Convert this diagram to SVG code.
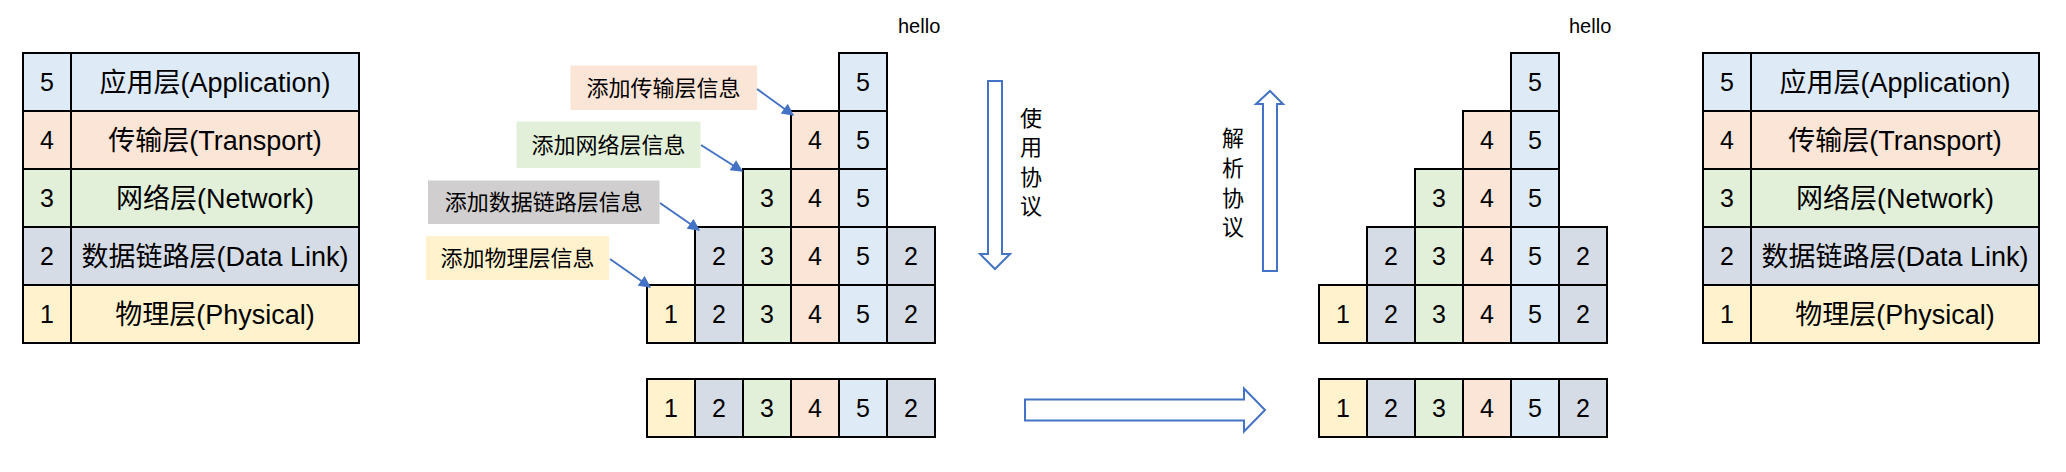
<svg xmlns="http://www.w3.org/2000/svg" width="2066" height="472" viewBox="0 0 2066 472">
<style>
text{font-family:"Liberation Sans","Noto Sans CJK SC",sans-serif;fill:#000}
.cell{stroke:#000;stroke-width:2}
.c1{fill:#FFF2CC}.c2{fill:#D6DCE5}.c3{fill:#E2F0D9}.c4{fill:#FBE5D6}.c5{fill:#DEEBF7}.cg{fill:#D0CECE}
.num{font-size:25px;text-anchor:middle}
.lbl{font-size:27px;text-anchor:middle}
.tag{font-size:22px;text-anchor:middle}
.vt{font-size:22px;text-anchor:middle}
.hello{font-size:20px}
.conn{stroke:#4472C4;stroke-width:2;fill:none}
.blk{stroke:#4472C4;stroke-width:2;fill:#fff}
</style>
<defs>
<marker id="ah" viewBox="0 0 10 10" refX="9" refY="5" markerWidth="14" markerHeight="12" markerUnits="userSpaceOnUse" orient="auto">
<path d="M0,0 L10,5 L0,10 z" fill="#4472C4"/>
</marker>
</defs>

<!-- Left table -->
<g id="left-table">
<g id="lt-5"><rect class="cell c5" x="23" y="53" width="48" height="58"/><rect class="cell c5" x="71" y="53" width="288" height="58"/><text class="num" x="47" y="91">5</text><text class="lbl" x="215" y="92">应用层(Application)</text></g>
<g id="lt-4"><rect class="cell c4" x="23" y="111" width="48" height="58"/><rect class="cell c4" x="71" y="111" width="288" height="58"/><text class="num" x="47" y="149">4</text><text class="lbl" x="215" y="150">传输层(Transport)</text></g>
<g id="lt-3"><rect class="cell c3" x="23" y="169" width="48" height="58"/><rect class="cell c3" x="71" y="169" width="288" height="58"/><text class="num" x="47" y="207">3</text><text class="lbl" x="215" y="208">网络层(Network)</text></g>
<g id="lt-2"><rect class="cell c2" x="23" y="227" width="48" height="58"/><rect class="cell c2" x="71" y="227" width="288" height="58"/><text class="num" x="47" y="265">2</text><text class="lbl" x="215" y="266">数据链路层(Data Link)</text></g>
<g id="lt-1"><rect class="cell c1" x="23" y="285" width="48" height="58"/><rect class="cell c1" x="71" y="285" width="288" height="58"/><text class="num" x="47" y="323">1</text><text class="lbl" x="215" y="324">物理层(Physical)</text></g>
</g>

<!-- Right table -->
<g id="right-table">
<g id="rt-5"><rect class="cell c5" x="1703" y="53" width="48" height="58"/><rect class="cell c5" x="1751" y="53" width="288" height="58"/><text class="num" x="1727" y="91">5</text><text class="lbl" x="1895" y="92">应用层(Application)</text></g>
<g id="rt-4"><rect class="cell c4" x="1703" y="111" width="48" height="58"/><rect class="cell c4" x="1751" y="111" width="288" height="58"/><text class="num" x="1727" y="149">4</text><text class="lbl" x="1895" y="150">传输层(Transport)</text></g>
<g id="rt-3"><rect class="cell c3" x="1703" y="169" width="48" height="58"/><rect class="cell c3" x="1751" y="169" width="288" height="58"/><text class="num" x="1727" y="207">3</text><text class="lbl" x="1895" y="208">网络层(Network)</text></g>
<g id="rt-2"><rect class="cell c2" x="1703" y="227" width="48" height="58"/><rect class="cell c2" x="1751" y="227" width="288" height="58"/><text class="num" x="1727" y="265">2</text><text class="lbl" x="1895" y="266">数据链路层(Data Link)</text></g>
<g id="rt-1"><rect class="cell c1" x="1703" y="285" width="48" height="58"/><rect class="cell c1" x="1751" y="285" width="288" height="58"/><text class="num" x="1727" y="323">1</text><text class="lbl" x="1895" y="324">物理层(Physical)</text></g>
</g>

<!-- Middle stack -->
<g id="mid-stack">
<g id="m-r0-5"><rect class="cell c5" x="839" y="53" width="48" height="58"/><text class="num" x="863" y="91">5</text></g>
<g id="m-r1-4"><rect class="cell c4" x="791" y="111" width="48" height="58"/><text class="num" x="815" y="149">4</text></g>
<g id="m-r1-5"><rect class="cell c5" x="839" y="111" width="48" height="58"/><text class="num" x="863" y="149">5</text></g>
<g id="m-r2-3"><rect class="cell c3" x="743" y="169" width="48" height="58"/><text class="num" x="767" y="207">3</text></g>
<g id="m-r2-4"><rect class="cell c4" x="791" y="169" width="48" height="58"/><text class="num" x="815" y="207">4</text></g>
<g id="m-r2-5"><rect class="cell c5" x="839" y="169" width="48" height="58"/><text class="num" x="863" y="207">5</text></g>
<g id="m-r3-2"><rect class="cell c2" x="695" y="227" width="48" height="58"/><text class="num" x="719" y="265">2</text></g>
<g id="m-r3-3"><rect class="cell c3" x="743" y="227" width="48" height="58"/><text class="num" x="767" y="265">3</text></g>
<g id="m-r3-4"><rect class="cell c4" x="791" y="227" width="48" height="58"/><text class="num" x="815" y="265">4</text></g>
<g id="m-r3-5"><rect class="cell c5" x="839" y="227" width="48" height="58"/><text class="num" x="863" y="265">5</text></g>
<g id="m-r3-2t"><rect class="cell c2" x="887" y="227" width="48" height="58"/><text class="num" x="911" y="265">2</text></g>
<g id="m-r4-1"><rect class="cell c1" x="647" y="285" width="48" height="58"/><text class="num" x="671" y="323">1</text></g>
<g id="m-r4-2"><rect class="cell c2" x="695" y="285" width="48" height="58"/><text class="num" x="719" y="323">2</text></g>
<g id="m-r4-3"><rect class="cell c3" x="743" y="285" width="48" height="58"/><text class="num" x="767" y="323">3</text></g>
<g id="m-r4-4"><rect class="cell c4" x="791" y="285" width="48" height="58"/><text class="num" x="815" y="323">4</text></g>
<g id="m-r4-5"><rect class="cell c5" x="839" y="285" width="48" height="58"/><text class="num" x="863" y="323">5</text></g>
<g id="m-r4-2t"><rect class="cell c2" x="887" y="285" width="48" height="58"/><text class="num" x="911" y="323">2</text></g>
</g>
<g id="mid-frame">
<g id="mf-1"><rect class="cell c1" x="647" y="379" width="48" height="58"/><text class="num" x="671" y="417">1</text></g>
<g id="mf-2"><rect class="cell c2" x="695" y="379" width="48" height="58"/><text class="num" x="719" y="417">2</text></g>
<g id="mf-3"><rect class="cell c3" x="743" y="379" width="48" height="58"/><text class="num" x="767" y="417">3</text></g>
<g id="mf-4"><rect class="cell c4" x="791" y="379" width="48" height="58"/><text class="num" x="815" y="417">4</text></g>
<g id="mf-5"><rect class="cell c5" x="839" y="379" width="48" height="58"/><text class="num" x="863" y="417">5</text></g>
<g id="mf-2t"><rect class="cell c2" x="887" y="379" width="48" height="58"/><text class="num" x="911" y="417">2</text></g>
</g>

<!-- Right stack -->
<g id="right-stack">
<g id="r-r0-5"><rect class="cell c5" x="1511" y="53" width="48" height="58"/><text class="num" x="1535" y="91">5</text></g>
<g id="r-r1-4"><rect class="cell c4" x="1463" y="111" width="48" height="58"/><text class="num" x="1487" y="149">4</text></g>
<g id="r-r1-5"><rect class="cell c5" x="1511" y="111" width="48" height="58"/><text class="num" x="1535" y="149">5</text></g>
<g id="r-r2-3"><rect class="cell c3" x="1415" y="169" width="48" height="58"/><text class="num" x="1439" y="207">3</text></g>
<g id="r-r2-4"><rect class="cell c4" x="1463" y="169" width="48" height="58"/><text class="num" x="1487" y="207">4</text></g>
<g id="r-r2-5"><rect class="cell c5" x="1511" y="169" width="48" height="58"/><text class="num" x="1535" y="207">5</text></g>
<g id="r-r3-2"><rect class="cell c2" x="1367" y="227" width="48" height="58"/><text class="num" x="1391" y="265">2</text></g>
<g id="r-r3-3"><rect class="cell c3" x="1415" y="227" width="48" height="58"/><text class="num" x="1439" y="265">3</text></g>
<g id="r-r3-4"><rect class="cell c4" x="1463" y="227" width="48" height="58"/><text class="num" x="1487" y="265">4</text></g>
<g id="r-r3-5"><rect class="cell c5" x="1511" y="227" width="48" height="58"/><text class="num" x="1535" y="265">5</text></g>
<g id="r-r3-2t"><rect class="cell c2" x="1559" y="227" width="48" height="58"/><text class="num" x="1583" y="265">2</text></g>
<g id="r-r4-1"><rect class="cell c1" x="1319" y="285" width="48" height="58"/><text class="num" x="1343" y="323">1</text></g>
<g id="r-r4-2"><rect class="cell c2" x="1367" y="285" width="48" height="58"/><text class="num" x="1391" y="323">2</text></g>
<g id="r-r4-3"><rect class="cell c3" x="1415" y="285" width="48" height="58"/><text class="num" x="1439" y="323">3</text></g>
<g id="r-r4-4"><rect class="cell c4" x="1463" y="285" width="48" height="58"/><text class="num" x="1487" y="323">4</text></g>
<g id="r-r4-5"><rect class="cell c5" x="1511" y="285" width="48" height="58"/><text class="num" x="1535" y="323">5</text></g>
<g id="r-r4-2t"><rect class="cell c2" x="1559" y="285" width="48" height="58"/><text class="num" x="1583" y="323">2</text></g>
</g>
<g id="right-frame">
<g id="rf-1"><rect class="cell c1" x="1319" y="379" width="48" height="58"/><text class="num" x="1343" y="417">1</text></g>
<g id="rf-2"><rect class="cell c2" x="1367" y="379" width="48" height="58"/><text class="num" x="1391" y="417">2</text></g>
<g id="rf-3"><rect class="cell c3" x="1415" y="379" width="48" height="58"/><text class="num" x="1439" y="417">3</text></g>
<g id="rf-4"><rect class="cell c4" x="1463" y="379" width="48" height="58"/><text class="num" x="1487" y="417">4</text></g>
<g id="rf-5"><rect class="cell c5" x="1511" y="379" width="48" height="58"/><text class="num" x="1535" y="417">5</text></g>
<g id="rf-2t"><rect class="cell c2" x="1559" y="379" width="48" height="58"/><text class="num" x="1583" y="417">2</text></g>
</g>

<!-- hello -->
<g id="hello-mid"><text class="hello" x="898" y="33">hello</text></g>
<g id="hello-right"><text class="hello" x="1569" y="33">hello</text></g>

<!-- Tag labels -->
<g id="tag-transport"><rect class="c4" x="570.5" y="65.5" width="186.5" height="44.5"/><text class="tag" x="663.5" y="96">添加传输层信息</text></g>
<g id="tag-network"><rect class="c3" x="516.5" y="121.5" width="184" height="46.5"/><text class="tag" x="608.5" y="153">添加网络层信息</text></g>
<g id="tag-datalink"><rect class="cg" x="428" y="180.5" width="231.5" height="43.5"/><text class="tag" x="543.7" y="210">添加数据链路层信息</text></g>
<g id="tag-physical"><rect class="c1" x="426" y="236" width="183" height="44"/><text class="tag" x="517.5" y="266">添加物理层信息</text></g>

<!-- Block arrows -->
<g id="arrow-down"><polygon class="blk" points="988,81 1002,81 1002,254 1010,254 995,269 980,254 988,254"/></g>
<g id="label-down"><text class="vt" x="1031" y="126">使</text><text class="vt" x="1031" y="155">用</text><text class="vt" x="1031" y="185">协</text><text class="vt" x="1031" y="214">议</text></g>
<g id="arrow-up"><polygon class="blk" points="1270,91 1283,104 1277,104 1277,271 1263,271 1263,104 1256,104"/></g>
<g id="label-up"><text class="vt" x="1233" y="146">解</text><text class="vt" x="1233" y="176">析</text><text class="vt" x="1233" y="206">协</text><text class="vt" x="1233" y="235">议</text></g>
<g id="arrow-right"><polygon class="blk" points="1025,399.5 1244,399.5 1244,388.5 1265,410 1244,431.5 1244,420.5 1025,420.5"/></g>

<!-- Connectors -->
<g id="connectors">
<line class="conn" x1="757" y1="89" x2="793" y2="115" marker-end="url(#ah)"/>
<line class="conn" x1="701" y1="145" x2="742" y2="171" marker-end="url(#ah)"/>
<line class="conn" x1="660" y1="203" x2="699" y2="230" marker-end="url(#ah)"/>
<line class="conn" x1="610" y1="259" x2="650" y2="287" marker-end="url(#ah)"/>
</g>
</svg>
